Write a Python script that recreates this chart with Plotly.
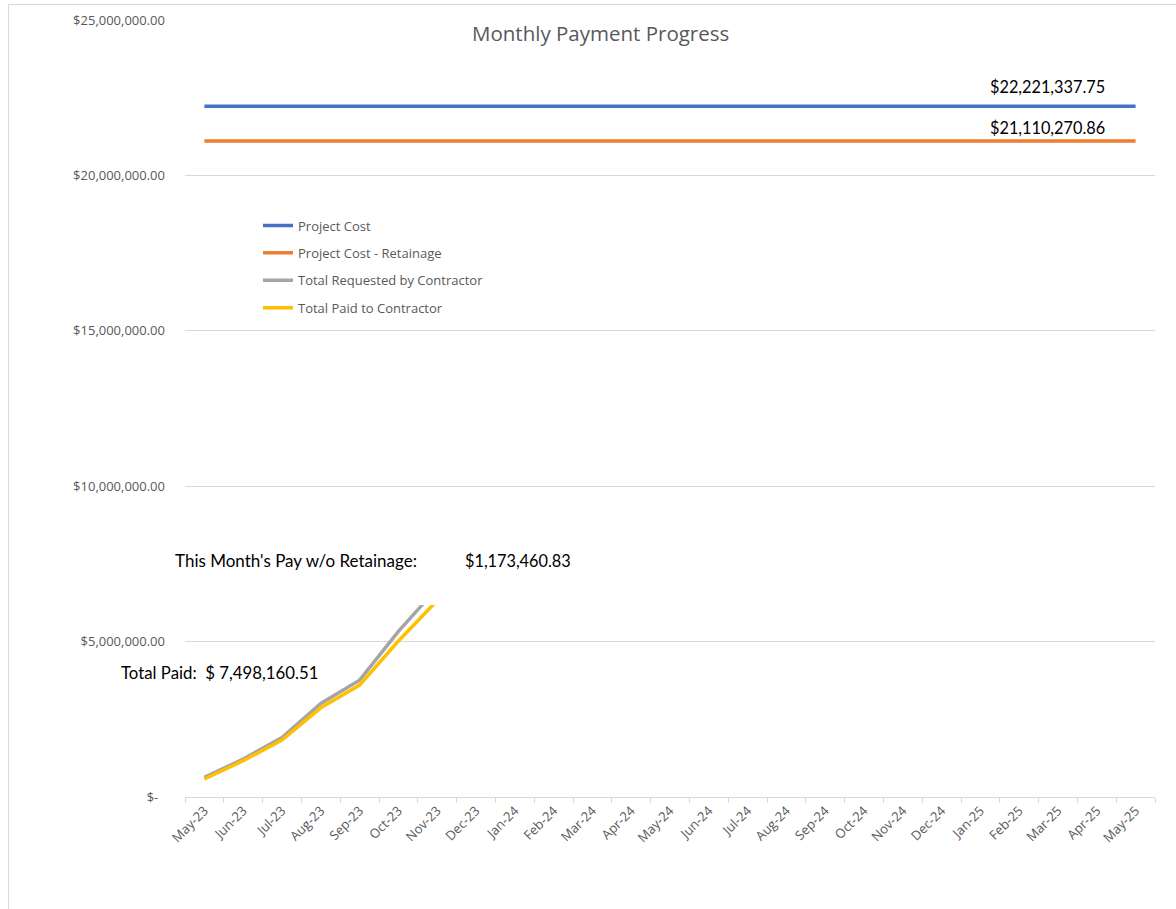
import plotly.graph_objects as go

# ---- data ----
months = ["May-23", "Jun-23", "Jul-23", "Aug-23", "Sep-23", "Oct-23", "Nov-23", "Dec-23",
          "Jan-24", "Feb-24", "Mar-24", "Apr-24", "May-24", "Jun-24", "Jul-24", "Aug-24",
          "Sep-24", "Oct-24", "Nov-24", "Dec-24", "Jan-25", "Feb-25", "Mar-25", "Apr-25", "May-25"]
project_cost_value = 22221337.75
retainage_cost_value = 21110270.86
project_cost = [project_cost_value] * len(months)
project_cost_retainage = [retainage_cost_value] * len(months)
requested_months = ["May-23", "Jun-23", "Jul-23", "Aug-23", "Sep-23", "Oct-23", "Nov-23", "Dec-23"]
total_requested = [630000, 1220000, 1910000, 3010000, 3760000, 5330000, 6720000, 7900000]
total_paid = [580000, 1170000, 1830000, 2870000, 3600000, 5020000, 6324699.68, 7498160.51]
this_month_pay = 1173460.83
y_tickvals = [0, 5000000, 10000000, 15000000, 20000000, 25000000]
y_ticktext = ["$-\u00a0\u00a0", "$5,000,000.00", "$10,000,000.00", "$15,000,000.00",
              "$20,000,000.00", "$25,000,000.00"]

W, H = 1176, 909
L, R, T, B = 185, 21, 20, 112
PW, PH = W - L - R, H - T - B

def px(x):
    return (x - L) / PW

def py(y):
    return (H - B - y) / PH

AX_FONT = "Open Sans"
TXT_FONT = "Lato"
GRAY_TXT = "#595959"
GRID = "#d9d9d9"

fig = go.Figure()
series = [
    ("Project Cost", months, project_cost, "#4472C4"),
    ("Project Cost - Retainage", months, project_cost_retainage, "#ED7D31"),
    ("Total Requested by Contractor", requested_months, total_requested, "#A5A5A5"),
    ("Total Paid to Contractor", requested_months, total_paid, "#FFC000"),
]
for i, (name, xs, ys, col) in enumerate(series):
    fig.add_trace(go.Scatter(x=xs, y=ys, name=name, mode="lines",
                             line=dict(color=col, width=3.5),
                             legendgroup=f"g{i}", hoverinfo="skip"))

fig.update_layout(
    width=W, height=H, autosize=False,
    margin=dict(l=L, r=R, t=T, b=B, autoexpand=False),
    paper_bgcolor="white", plot_bgcolor="white",
    showlegend=True,
    legend=dict(x=px(258), y=py(210.5), xanchor="left", yanchor="top",
                font=dict(family=AX_FONT, size=13, color=GRAY_TXT),
                bgcolor="rgba(0,0,0,0)", tracegroupgap=7.5, traceorder="grouped"),
    xaxis=dict(type="category", categoryorder="array", categoryarray=months,
               range=[-0.5, len(months) - 0.5], tickangle=-45,
               tickson="boundaries", ticks="outside", ticklen=5, tickcolor=GRID,
               showline=True, linecolor=GRID, linewidth=1, showgrid=False,
               tickfont=dict(family=AX_FONT, size=13, color=GRAY_TXT)),
    yaxis=dict(range=[0, 25000000], tickvals=y_tickvals, ticktext=y_ticktext,
               showgrid=True, gridcolor=GRID, gridwidth=1, zeroline=False,
               showline=False, ticks="", ticklabelstandoff=19,
               tickfont=dict(family=AX_FONT, size=13, color=GRAY_TXT)),
)

# white text box that sits over the lines
fig.add_shape(type="rect", xref="paper", yref="paper",
              x0=px(160), x1=px(600), y0=py(605), y1=py(535),
              fillcolor="white", line=dict(width=0), layer="above")
# chart border
fig.add_shape(type="rect", xref="paper", yref="paper",
              x0=px(8.5), x1=px(1200), y0=py(940), y1=py(4.5),
              fillcolor="rgba(0,0,0,0)", line=dict(color=GRID, width=1), layer="below")

def money(v):
    return "${:,.2f}".format(v)

annos = [
    ("Monthly Payment Progress", 600, 33, 20.5, GRAY_TXT, AX_FONT),
    (money(project_cost_value), 1047, 87, 16.3, "black", TXT_FONT),
    (money(retainage_cost_value), 1047, 127, 16.3, "black", TXT_FONT),
    ("This Month's Pay w/o Retainage:", 295.5, 560, 17, "black", TXT_FONT),
    (money(this_month_pay), 517.5, 560, 16.3, "black", TXT_FONT),
    ("Total Paid:\u00a0\u00a0$ " + "{:,.2f}".format(total_paid[-1]), 219, 672, 16.8, "black", TXT_FONT),
]
for text, x, y, size, col, fam in annos:
    fig.add_annotation(text=text, xref="paper", yref="paper", x=px(x), y=py(y),
                       xanchor="center", yanchor="middle", showarrow=False,
                       font=dict(family=fam, size=size, color=col))

fig.write_html("out.html", config={"displayModeBar": False},
               post_script="document.body.style.margin='0px';")
